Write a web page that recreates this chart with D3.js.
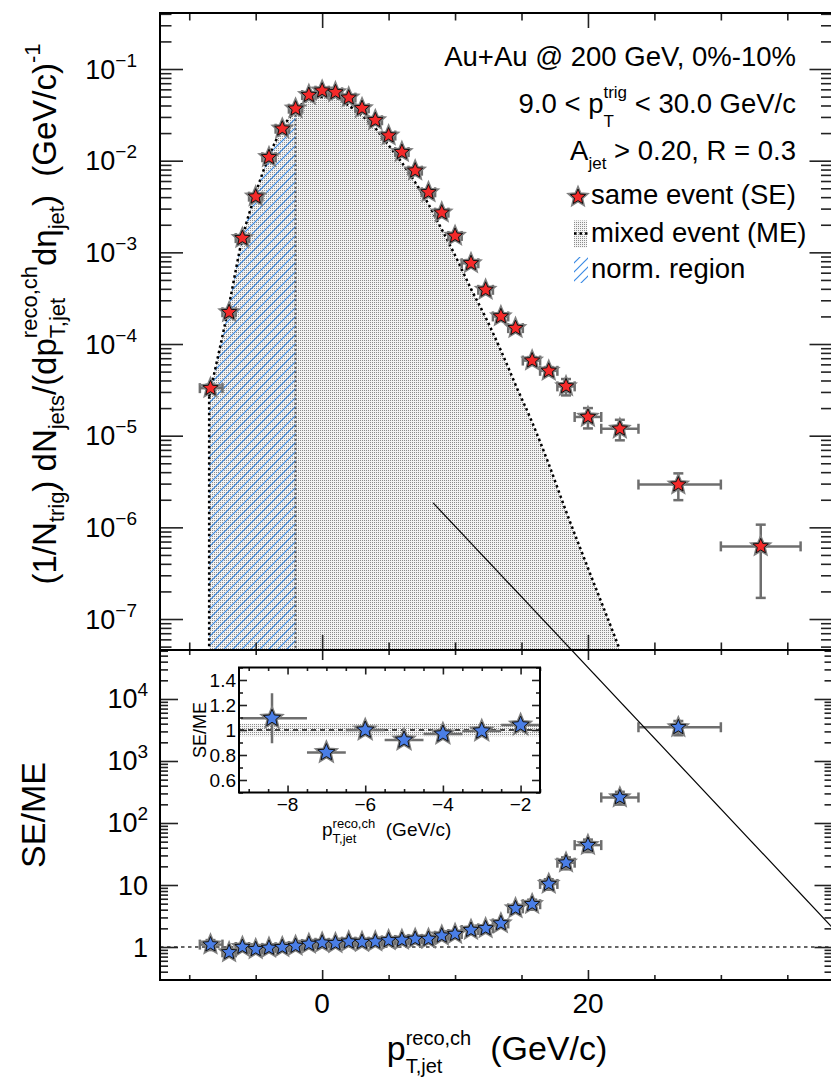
<!DOCTYPE html>
<html>
<head>
<meta charset="utf-8">
<script src="https://cdn.jsdelivr.net/npm/d3@7"></script>
<style>
body { margin: 0; background: #fff; }
svg { display: block; }
text { font-family: "Liberation Sans", Arial, Helvetica, sans-serif; fill: #000; white-space: pre; }
</style>
</head>
<body>
<svg id="chart" width="831" height="1080"></svg>
<script>
// ---- data ----
// same-event points: bin centres (GeV/c), values, symmetric errors
const seX = [-8.4, -7, -6, -5, -4, -3, -2, -1, 0, 1, 2, 3, 4, 5, 6, 7, 8, 9, 10,
  11.2, 12.3, 13.45, 14.55, 15.8, 17.05, 18.35, 20, 22.4, 26.8, 33];
const binEdges = [-9.2, -7.5, -6.5, -5.5, -4.5, -3.5, -2.5, -1.5, -0.5, 0.5, 1.5, 2.5, 3.5, 4.5, 5.5,
  6.5, 7.5, 8.5, 9.5, 10.5, 11.75, 12.85, 14.0, 15.1, 16.4, 17.7, 19.0, 21.0, 23.8, 30.0, 36.0];
const seY = [3.3e-5, 2.22e-4, 1.43e-3, 4.05e-3, 1.09e-2, 2.23e-2, 3.69e-2, 5.2e-2, 5.8e-2, 5.57e-2,
  4.87e-2, 3.73e-2, 2.76e-2, 1.88e-2, 1.24e-2, 7.78e-3, 4.52e-3, 2.71e-3, 1.51e-3,
  7.6e-4, 3.9e-4, 2.0e-4, 1.49e-4, 6.6e-5, 5.1e-5, 3.45e-5, 1.6e-5, 1.19e-5, 2.93e-6, 6.2e-7];
const seErr = [3e-6, 1.2e-5, 4e-5, 8e-5, 1.5e-4, 2.5e-4, 3.5e-4, 4.5e-4, 5e-4, 5e-4,
  4.5e-4, 3.8e-4, 3e-4, 2.3e-4, 1.7e-4, 1.2e-4, 8e-5, 6e-5, 4e-5,
  2.5e-5, 1.7e-5, 1.1e-5, 1e-5, 6e-6, 5e-6, 7e-6, 4e-6, 3e-6, 9.5e-7, 4.5e-7];

// mixed-event curve
const meX = [-8.5, -7, -6, -5, -4, -3, -2, -1, 0, 1, 2, 3, 4, 5, 6, 7, 8, 9, 10,
  11.2, 12.3, 13.45, 14.55, 15.8, 17.05, 18.35, 20, 22.4, 23.5];
const meY = [2.7e-5, 2.7e-4, 1.43e-3, 4.4e-3, 1.12e-2, 2.25e-2, 3.55e-2, 4.65e-2, 4.96e-2, 4.85e-2,
  4.0e-2, 3.1e-2, 2.26e-2, 1.47e-2, 9.5e-3, 5.8e-3, 3.35e-3, 1.78e-3, 9.3e-4,
  4.0e-4, 1.95e-4, 8.5e-5, 3.6e-5, 1.4e-5, 4.9e-6, 1.5e-6, 3.6e-7, 4.6e-8, 1.7e-8];
const normRange = [-8.5, -2];

// SE/ME ratio (same bins as seX, last bin has no ME)
const ratioY = [1.094, 0.82, 1.0, 0.92, 0.968, 0.992, 1.04, 1.12, 1.17, 1.15, 1.22, 1.2, 1.22,
  1.28, 1.3, 1.35, 1.35, 1.52, 1.62, 1.88, 2.0, 2.4, 4.2, 4.9, 10.4, 22.9, 44, 258, 3500];
const ratioErr = [0.2, 0.045, 0.04, 0.035, 0.035, 0.035, 0.035, 0.035, 0.035, 0.035, 0.04, 0.04, 0.04,
  0.045, 0.05, 0.06, 0.07, 0.09, 0.11, 0.15, 0.2, 0.3, 0.6, 0.9, 2, 5, 10, 60, 900];
const insetBand = [0.95, 1.05];

// ticks and labels
const xMajor = [0, 20], xMajorLabels = ["0", "20"];
const xMinor = [-10, -5, 5, 10, 15, 25, 30, 35];
const topYTicks = [1e-7, 1e-6, 1e-5, 1e-4, 1e-3, 1e-2, 1e-1];
const topYExp = ["\u22127", "\u22126", "\u22125", "\u22124", "\u22123", "\u22122", "\u22121"];
const botYTicks = [1, 10, 100, 1000, 10000];
const botYBase = ["1", "10", "10", "10", "10"];
const botYExp = ["", "", "2", "3", "4"];
const inXTicks = [-8, -6, -4, -2], inXLabels = ["\u22128", "\u22126", "\u22124", "\u22122"];
const inXMinor = [-9, -8.5, -7.5, -7, -6.5, -5.5, -5, -4.5, -3.5, -3, -2.5, -1.5];
const inYTicks = [0.6, 0.8, 1, 1.2, 1.4], inYLabels = ["0.6", "0.8", "1", "1.2", "1.4"];
const inYMinor = [0.5, 0.7, 0.9, 1.1, 1.3, 1.5];
const legendLabels = ["same event (SE)", "mixed event (ME)", "norm. region"];
const annoLine = [[8.35, 1.85e-6], [38.4, 4.3e-11]]; // thin black line, top-panel coords

// ---- layout ----
const L = 160, R = 832.5, T = 13, MID = 650, B = 980;
const x = d3.scaleLinear().domain([-12.2, 38.4]).range([L, R]);
const yTop = d3.scaleLog().domain([Math.pow(10, -7.338), Math.pow(10, -0.389)]).range([MID, T]);
const yBot = d3.scaleLog().domain([Math.pow(10, -0.532), Math.pow(10, 4.79)]).range([B, MID]);
const IL = 239, IR = 540, IT = 667.5, IB = 792.5;
const xIn = d3.scaleLinear().domain([-9.25, -1.5]).range([IL, IR]);
const yIn = d3.scaleLinear().domain([0.5, 1.5]).range([IB, IT]);

const svg = d3.select('#chart');
const defs = svg.append('defs');

// fine dot fill (ROOT fill style)
const dots = defs.append('pattern').attr('id', 'dots').attr('patternUnits', 'userSpaceOnUse')
  .attr('width', 2).attr('height', 2);
dots.append('rect').attr('width', 2).attr('height', 2).attr('fill', '#f4f4f4');
dots.append('rect').attr('width', 1).attr('height', 1).attr('fill', '#8c8c8c');

const hatch = defs.append('pattern').attr('id', 'hatch').attr('patternUnits', 'userSpaceOnUse')
  .attr('width', 9).attr('height', 9);
hatch.append('path').attr('d', 'M0,9L9,0M-1,1L1,-1M8,10L10,8')
  .attr('stroke', '#3a8ae4').attr('stroke-width', 1.2);

function clip(id, x0, y0, w, h) {
  defs.append('clipPath').attr('id', id).append('rect')
    .attr('x', x0).attr('y', y0).attr('width', w).attr('height', h);
}
clip('clipTop', L, T, R - L, MID - T);
clip('clipNorm', x(normRange[0]), T, x(normRange[1]) - x(normRange[0]), MID - T);
clip('clipBot', L, MID, R - L, B - MID);
clip('clipIn', IL, IT, IR - IL, IB - IT);

function starPath(r) {
  const ri = r * 0.45;
  let d = '';
  for (let k = 0; k < 10; k++) {
    const a = -Math.PI / 2 + k * Math.PI / 5;
    const rr = k % 2 ? ri : r;
    d += (k ? 'L' : 'M') + (rr * Math.cos(a)).toFixed(2) + ',' + (rr * Math.sin(a)).toFixed(2);
  }
  return d + 'Z';
}

function drawStars(g, pts, r, fill) {
  g.selectAll(null).data(pts).join('path')
    .attr('d', starPath(r)).attr('transform', d => `translate(${d[0]},${d[1]})`)
    .attr('fill', 'none').attr('stroke', '#808080').attr('stroke-width', 3.5);
  g.selectAll(null).data(pts).join('path')
    .attr('d', starPath(r)).attr('transform', d => `translate(${d[0]},${d[1]})`)
    .attr('fill', fill).attr('stroke', '#111').attr('stroke-width', 1);
}

// rows: {x, xl, xh, y, yl, yh} in pixels
function drawErr(g, rows, cap) {
  const e = g.append('g').attr('stroke', '#6e6e6e').attr('stroke-width', 2.5);
  rows.forEach(r => {
    e.append('line').attr('x1', r.xl).attr('x2', r.xh).attr('y1', r.y).attr('y2', r.y);
    e.append('line').attr('x1', r.x).attr('x2', r.x).attr('y1', r.yl).attr('y2', r.yh);
    if (!cap) return;
    [r.xl, r.xh].forEach(v => e.append('line').attr('x1', v).attr('x2', v)
      .attr('y1', r.y - cap).attr('y2', r.y + cap));
    [r.yl, r.yh].forEach(v => e.append('line').attr('x1', r.x - cap).attr('x2', r.x + cap)
      .attr('y1', v).attr('y2', v));
  });
}

// text with sub/superscripts laid out piece by piece
function rich(parent, pieces, opts) {
  const g = parent.append('g');
  const inner = g.append('g');
  let cx = 0, start = 0;
  pieces.forEach(p => {
    const sx = p.stack ? start : cx;
    const t = inner.append('text').attr('xml:space', 'preserve')
      .attr('x', sx).attr('y', p.dy || 0).attr('font-size', p.size).text(p.text);
    const w = t.node().getComputedTextLength();
    if (p.stack) cx = Math.max(cx, sx + w);
    else { start = sx; cx = sx + w; }
  });
  const shift = opts.anchor === 'end' ? -cx : opts.anchor === 'middle' ? -cx / 2 : 0;
  inner.attr('transform', `translate(${shift},0)`);
  g.attr('transform', `translate(${opts.x},${opts.y})` + (opts.rotate ? ` rotate(${opts.rotate})` : ''));
  return g;
}

function logMinor(scale) {
  const [lo, hi] = scale.domain(), out = [];
  for (let e = Math.floor(Math.log10(lo)); e <= Math.ceil(Math.log10(hi)); e++)
    for (let m = 2; m <= 9; m++) {
      const v = m * Math.pow(10, e);
      if (v >= lo && v <= hi) out.push(v);
    }
  return out;
}

// inward ticks via d3 axes
function ticks(g, axisFn, scale, vals, len, tx, ty) {
  g.append('g').attr('transform', `translate(${tx},${ty})`)
    .call(axisFn(scale).tickValues(vals).tickSize(len).tickFormat(''))
    .call(a => a.select('.domain').remove())
    .call(a => a.selectAll('line').attr('stroke', '#222').attr('stroke-width', 1.6));
}

// ================= top panel =================
const topG = svg.append('g');
const topBody = topG.append('g').attr('clip-path', 'url(#clipTop)');
const mePts = meX.map((v, i) => [v, meY[i]]);
const meArea = d3.area().x(d => x(d[0])).y0(MID).y1(d => yTop(d[1])).curve(d3.curveMonotoneX);
const meLine = d3.line().x(d => x(d[0])).y(d => yTop(d[1])).curve(d3.curveMonotoneX);

topBody.append('path').attr('d', meArea(mePts)).attr('fill', 'url(#dots)');
topBody.append('g').attr('clip-path', 'url(#clipNorm)')
  .append('path').attr('d', meArea(mePts)).attr('fill', 'url(#hatch)');
const normTop = meY[meX.indexOf(normRange[1])];
topBody.append('line').attr('x1', x(normRange[1])).attr('x2', x(normRange[1]))
  .attr('y1', yTop(normTop)).attr('y2', MID)
  .attr('stroke', '#555').attr('stroke-width', 2).attr('stroke-dasharray', '2,2.5');
topBody.append('line').attr('x1', x(meX[0])).attr('x2', x(meX[0]))
  .attr('y1', yTop(meY[0])).attr('y2', MID)
  .attr('stroke', '#000').attr('stroke-width', 2.5).attr('stroke-dasharray', '2.5,3');
topBody.append('path').attr('d', meLine(mePts)).attr('fill', 'none')
  .attr('stroke', '#000').attr('stroke-width', 2.5).attr('stroke-dasharray', '2.5,3');

const seRows = seX.map((v, i) => ({
  x: x(v), xl: x(binEdges[i]), xh: x(binEdges[i + 1]),
  y: yTop(seY[i]), yl: yTop(seY[i] - seErr[i]), yh: yTop(seY[i] + seErr[i])
}));
drawErr(topBody, seRows, 5);
drawStars(topBody, seRows.map(r => [r.x, r.y]), 8, '#f42a2a');

// axes
const topAx = topG.append('g');
ticks(topAx, d3.axisRight, yTop, topYTicks, 23, L, 0);
ticks(topAx, d3.axisRight, yTop, logMinor(yTop), 11.5, L, 0);
ticks(topAx, d3.axisLeft, yTop, topYTicks, 23, R, 0);
ticks(topAx, d3.axisLeft, yTop, logMinor(yTop), 11.5, R, 0);
ticks(topAx, d3.axisBottom, x, xMajor, 15, 0, T);
ticks(topAx, d3.axisBottom, x, xMinor, 7.5, 0, T);
ticks(topAx, d3.axisTop, x, xMajor, 15, 0, MID);
ticks(topAx, d3.axisTop, x, xMinor, 7.5, 0, MID);
topG.append('rect').attr('x', L).attr('y', T).attr('width', R - L).attr('height', MID - T)
  .attr('fill', 'none').attr('stroke', '#000').attr('stroke-width', 2);

topYTicks.forEach((v, i) => {
  rich(topG, [{ text: '10', size: 27 }, { text: topYExp[i], size: 19, dy: -12 }],
    { x: 137, y: yTop(v) + 9.5, anchor: 'end' });
});

// header texts and legend
rich(topG, [{ text: 'Au+Au @ 200 GeV, 0%-10%', size: 27.5 }], { x: 796, y: 66, anchor: 'end' });
rich(topG, [{ text: '9.0 < p', size: 27.5 }, { text: 'trig', size: 17, dy: -15 },
  { text: 'T', size: 17, dy: 14, stack: true }, { text: ' < 30.0 GeV/c', size: 27.5 }],
  { x: 796, y: 113, anchor: 'end' });
rich(topG, [{ text: 'A', size: 27.5 }, { text: 'jet', size: 17, dy: 9 },
  { text: ' > 0.20, R = 0.3', size: 27.5 }], { x: 796, y: 160, anchor: 'end' });

const legY = [204, 241.5, 278];
legendLabels.forEach((s, i) => {
  rich(topG, [{ text: s, size: 27.5 }], { x: 591, y: legY[i], anchor: 'start' });
});
drawStars(topG, [[578, legY[0] - 7]], 8, '#f42a2a');
topG.append('rect').attr('x', 574).attr('y', legY[1] - 21).attr('width', 13).attr('height', 27)
  .attr('fill', 'url(#dots)');
topG.append('line').attr('x1', 574).attr('x2', 589).attr('y1', legY[1] - 8).attr('y2', legY[1] - 8)
  .attr('stroke', '#000').attr('stroke-width', 2.5).attr('stroke-dasharray', '2.5,3');
topG.append('rect').attr('x', 574).attr('y', legY[2] - 21).attr('width', 14).attr('height', 26)
  .attr('fill', 'url(#hatch)');

// y title
rich(svg, [
  { text: '(1/N', size: 33 }, { text: 'trig', size: 22, dy: 8 },
  { text: ') dN', size: 33 }, { text: 'jets', size: 22, dy: 8 },
  { text: '/(dp', size: 33 }, { text: 'reco,ch', size: 22, dy: -19 },
  { text: 'T,jet', size: 22, dy: 9, stack: true },
  { text: 'd\u03b7', size: 33 }, { text: 'jet', size: 22, dy: 8 },
  { text: ')\u00a0\u00a0(GeV/c)', size: 33 }, { text: '-1', size: 22, dy: -16 }
], { x: 56, y: 314, anchor: 'middle', rotate: -90 });

// ================= bottom panel =================
const botG = svg.append('g');
const botBody = botG.append('g').attr('clip-path', 'url(#clipBot)');
botBody.append('line').attr('x1', L).attr('x2', R).attr('y1', yBot(1)).attr('y2', yBot(1))
  .attr('stroke', '#666').attr('stroke-width', 2).attr('stroke-dasharray', '3.5,3.5');

const rRows = ratioY.map((v, i) => ({
  x: x(seX[i]), xl: x(binEdges[i]), xh: x(binEdges[i + 1]),
  y: yBot(v), yl: yBot(Math.max(v - ratioErr[i], 0.35)), yh: yBot(v + ratioErr[i])
}));
drawErr(botBody, rRows, 5);
drawStars(botBody, rRows.map(r => [r.x, r.y]), 8, '#4a7ee6');

const botAx = botG.append('g');
ticks(botAx, d3.axisRight, yBot, botYTicks, 18, L, 0);
ticks(botAx, d3.axisRight, yBot, logMinor(yBot), 8, L, 0);
ticks(botAx, d3.axisLeft, yBot, botYTicks, 18, R, 0);
ticks(botAx, d3.axisLeft, yBot, logMinor(yBot), 8, R, 0);
ticks(botAx, d3.axisBottom, x, xMajor, 10, 0, MID);
ticks(botAx, d3.axisBottom, x, xMinor, 5, 0, MID);
ticks(botAx, d3.axisTop, x, xMajor, 10, 0, B);
ticks(botAx, d3.axisTop, x, xMinor, 5, 0, B);
botG.append('rect').attr('x', L).attr('y', MID).attr('width', R - L).attr('height', B - MID)
  .attr('fill', 'none').attr('stroke', '#000').attr('stroke-width', 2);

botYTicks.forEach((v, i) => {
  const parts = [{ text: botYBase[i], size: 27 }];
  if (botYExp[i]) parts.push({ text: botYExp[i], size: 19, dy: -12 });
  rich(botG, parts, { x: 148, y: yBot(v) + 9.5, anchor: 'end' });
});
xMajor.forEach((v, i) => {
  rich(botG, [{ text: xMajorLabels[i], size: 28 }], { x: x(v), y: 1013, anchor: 'middle' });
});
rich(svg, [{ text: 'SE/ME', size: 34 }], { x: 45, y: 815, anchor: 'middle', rotate: -90 });
rich(svg, [{ text: 'p', size: 34 }, { text: 'reco,ch', size: 20, dy: -15 },
  { text: 'T,jet', size: 20, dy: 13, stack: true }, { text: '\u00a0\u00a0(GeV/c)', size: 34 }],
  { x: 497, y: 1060, anchor: 'middle' });

// ================= inset =================
const ins = svg.append('g');
ins.append('rect').attr('x', IL).attr('y', IT).attr('width', IR - IL).attr('height', IB - IT).attr('fill', '#fff');
const insBody = ins.append('g').attr('clip-path', 'url(#clipIn)');
insBody.append('rect').attr('x', IL).attr('width', IR - IL)
  .attr('y', yIn(insetBand[1])).attr('height', yIn(insetBand[0]) - yIn(insetBand[1]))
  .attr('fill', 'url(#dots)');
insBody.append('line').attr('x1', IL).attr('x2', IR).attr('y1', yIn(1)).attr('y2', yIn(1))
  .attr('stroke', '#444').attr('stroke-width', 2).attr('stroke-dasharray', '5,4');
const inRows = ratioY.map((v, i) => ({
  x: xIn(seX[i]), xl: xIn(binEdges[i]), xh: xIn(binEdges[i + 1]),
  y: yIn(v), yl: yIn(v - ratioErr[i]), yh: yIn(v + ratioErr[i])
})).filter((r, i) => seX[i] < -1.5);
drawErr(insBody, inRows, 0);
drawStars(insBody, inRows.map(r => [r.x, r.y]), 9, '#4a7ee6');

const inAx = ins.append('g');
ticks(inAx, d3.axisRight, yIn, inYTicks, 8, IL, 0);
ticks(inAx, d3.axisRight, yIn, inYMinor, 4, IL, 0);
ticks(inAx, d3.axisLeft, yIn, inYTicks, 8, IR, 0);
ticks(inAx, d3.axisLeft, yIn, inYMinor, 4, IR, 0);
ticks(inAx, d3.axisTop, xIn, inXTicks, 7, 0, IB);
ticks(inAx, d3.axisTop, xIn, inXMinor, 3.5, 0, IB);
ticks(inAx, d3.axisBottom, xIn, inXTicks, 7, 0, IT);
ticks(inAx, d3.axisBottom, xIn, inXMinor, 3.5, 0, IT);
ins.append('rect').attr('x', IL).attr('y', IT).attr('width', IR - IL).attr('height', IB - IT)
  .attr('fill', 'none').attr('stroke', '#000').attr('stroke-width', 2);

inYTicks.forEach((v, i) => {
  rich(ins, [{ text: inYLabels[i], size: 19 }], { x: 236, y: yIn(v) + 7, anchor: 'end' });
});
inXTicks.forEach((v, i) => {
  rich(ins, [{ text: inXLabels[i], size: 19 }], { x: xIn(v), y: 811, anchor: 'middle' });
});
rich(ins, [{ text: 'SE/ME', size: 18 }], { x: 206, y: 730, anchor: 'middle', rotate: -90 });
rich(ins, [{ text: 'p', size: 19 }, { text: 'reco,ch', size: 13, dy: -8 },
  { text: 'T,jet', size: 13, dy: 7, stack: true }, { text: '\u00a0\u00a0(GeV/c)', size: 19 }],
  { x: 322, y: 836, anchor: 'start' });

// thin annotation line across both panels
svg.append('line')
  .attr('x1', x(annoLine[0][0])).attr('y1', yTop(annoLine[0][1]))
  .attr('x2', x(annoLine[1][0])).attr('y2', yTop(annoLine[1][1]))
  .attr('stroke', '#000').attr('stroke-width', 1.2);
</script>
</body>
</html>
